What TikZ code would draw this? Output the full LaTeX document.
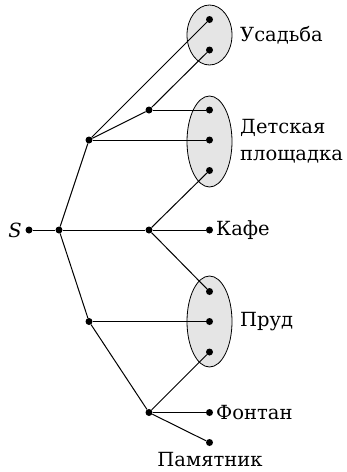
\documentclass[tikz,border=0pt]{standalone}
\usepackage{fontspec}
\setmainfont{DejaVu Serif}
\begin{document}
\begin{tikzpicture}[x=1pt,y=-1pt,
  dot/.style={circle,fill=black,inner sep=0pt,minimum size=7pt},
  grp/.style={draw=black,fill=black!10,line width=0.8pt},
  lbl/.style={font=\fontsize{19.5}{27}\selectfont,inner sep=0pt},
  edge/.style={line width=1pt}]
\useasboundingbox (0,0) rectangle (346,472);
% groups
\draw[grp] (209.5,35) ellipse [x radius=22.5, y radius=30];
\draw[grp] (209.5,141.5) ellipse [x radius=22.5, y radius=45.5];
\draw[grp] (209.5,321.5) ellipse [x radius=22.5, y radius=45.5];
% nodes
\node[dot] (s) at (29,230) {};
\node[dot] (a) at (59,230) {};
\node[dot] (b) at (89,140) {};
\node[dot] (c) at (149,110) {};
\node[dot] (d) at (149,230) {};
\node[dot] (e) at (89,321.5) {};
\node[dot] (f) at (149,412.5) {};
\node[dot] (u1) at (209.5,19.5) {};
\node[dot] (u2) at (209.5,50) {};
\node[dot] (p1) at (209.5,110) {};
\node[dot] (p2) at (209.5,140) {};
\node[dot] (p3) at (209.5,170.5) {};
\node[dot] (k) at (209.5,230) {};
\node[dot] (r1) at (209.5,291.5) {};
\node[dot] (r2) at (209.5,321.5) {};
\node[dot] (r3) at (209.5,352) {};
\node[dot] (fo) at (209.5,412.5) {};
\node[dot] (pm) at (209.5,442.5) {};
% labels
\node[lbl,anchor=east] (ls) at (22,230) {\textit{S}};
\node[lbl,anchor=west] (lu) at (240,35) {Усадьба};
\node[lbl,anchor=west,align=left] (lp) at (240,141) {Детская\\площадка};
\node[lbl,anchor=west] (lk) at (216,230) {Кафе};
\node[lbl,anchor=west] (lr) at (240,321.5) {Пруд};
\node[lbl,anchor=west] (lf) at (216,412.5) {Фонтан};
\node[lbl,anchor=north] (lm) at (210,452) {Памятник};
% edges
\draw[edge] (s) -- (a) -- (d) -- (k);
\draw[edge] (a) -- (b);
\draw[edge] (a) -- (e);
\draw[edge] (b) -- (u1);
\draw[edge] (b) -- (c);
\draw[edge] (b) -- (p2);
\draw[edge] (c) -- (u2);
\draw[edge] (c) -- (p1);
\draw[edge] (d) -- (p3);
\draw[edge] (d) -- (r1);
\draw[edge] (e) -- (r2);
\draw[edge] (e) -- (f);
\draw[edge] (f) -- (r3);
\draw[edge] (f) -- (fo);
\draw[edge] (f) -- (pm);
\end{tikzpicture}
\end{document}
